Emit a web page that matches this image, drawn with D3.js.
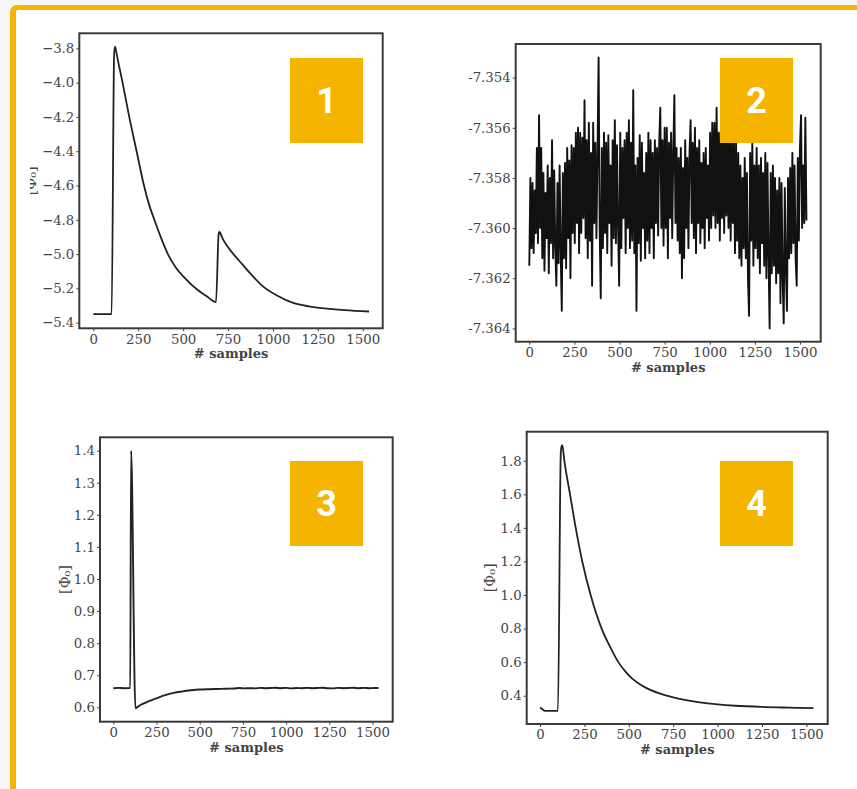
<!DOCTYPE html>
<html>
<head>
<meta charset="utf-8">
<script src="https://cdn.jsdelivr.net/npm/d3@7"></script>
<style>
  body { margin: 0; background: #f6f6f6; }
  svg text { font-family: "DejaVu Serif", serif; }
</style>
</head>
<body>
<div id="chart"></div>
<script>
// ---- data ----
const xTicks = [0, 250, 500, 750, 1000, 1250, 1500];

// panel 1: two pulses
const p1Samples = [0, 100, 102, 116, 121, 126, 135, 163, 200, 241, 282, 310, 340, 375, 415, 460, 510, 576, 630, 683, 698, 702, 706, 720, 750, 780, 830, 880, 946, 1020, 1113, 1200, 1300, 1400, 1535];
const p1Values = [-5.35, -5.35, -5.35, -3.83, -3.79, -3.81, -3.86, -4.0, -4.2, -4.4, -4.6, -4.71, -4.8, -4.90, -5.0, -5.08, -5.14, -5.205, -5.245, -5.28, -4.88, -4.87, -4.875, -4.91, -4.96, -5.0, -5.06, -5.12, -5.19, -5.24, -5.285, -5.305, -5.318, -5.327, -5.335];
const p1Ticks = [-5.4, -5.2, -5.0, -4.8, -4.6, -4.4, -4.2, -4.0, -3.8];

// panel 2: noise, one reading every 6 samples
const noiseStep = 6;
const p2Values = [
  -7.3615, -7.3580, -7.3608, -7.3582, -7.3610, -7.3585, -7.3602, -7.3568, -7.3606, -7.3555,
  -7.3600, -7.3568, -7.3612, -7.3578, -7.3617, -7.3586, -7.3604, -7.3575, -7.3618, -7.3580,
  -7.3606, -7.3565, -7.3612, -7.3577, -7.3608, -7.3623, -7.3582, -7.3614, -7.3575, -7.3610,
  -7.3633, -7.3578, -7.3612, -7.3574, -7.3616, -7.3568, -7.3604, -7.3573, -7.3620, -7.3567,
  -7.3602, -7.3568, -7.3606, -7.3562, -7.3598, -7.3560, -7.3610, -7.3562, -7.3602, -7.3564,
  -7.3596, -7.3549, -7.3604, -7.3565, -7.3612, -7.3558, -7.3605, -7.3570, -7.3623, -7.3558,
  -7.3598, -7.3566, -7.3604, -7.3570, -7.3532, -7.3600, -7.3628, -7.3568, -7.3608, -7.3562,
  -7.3602, -7.3566, -7.3610, -7.3563, -7.3598, -7.3575, -7.3615, -7.3565, -7.3604, -7.3557,
  -7.3606, -7.3567, -7.3600, -7.3623, -7.3562, -7.3608, -7.3568, -7.3596, -7.3565, -7.3610,
  -7.3562, -7.3600, -7.3557, -7.3608, -7.3566, -7.3605, -7.3545, -7.3610, -7.3575, -7.3633,
  -7.3572, -7.3606, -7.3563, -7.3613, -7.3566, -7.3600, -7.3578, -7.3612, -7.3570, -7.3605,
  -7.3562, -7.3610, -7.3565, -7.3600, -7.3570, -7.3612, -7.3565, -7.3598, -7.3568, -7.3603,
  -7.3566, -7.3552, -7.3600, -7.3565, -7.3607, -7.3560, -7.3600, -7.3560, -7.3612, -7.3566,
  -7.3596, -7.3562, -7.3604, -7.3570, -7.3547, -7.3598, -7.3568, -7.3605, -7.3572, -7.3610,
  -7.3568, -7.3620, -7.3576, -7.3612, -7.3565, -7.3600, -7.3572, -7.3608, -7.3570, -7.3557,
  -7.3598, -7.3566, -7.3604, -7.3560, -7.3610, -7.3568, -7.3598, -7.3565, -7.3606, -7.3574,
  -7.3600, -7.3570, -7.3608, -7.3568, -7.3596, -7.3575, -7.3605, -7.3562, -7.3600, -7.3558,
  -7.3595, -7.3558, -7.3600, -7.3552, -7.3598, -7.3562, -7.3605, -7.3560, -7.3596, -7.3557,
  -7.3602, -7.3556, -7.3595, -7.3565, -7.3600, -7.3558, -7.3605, -7.3566, -7.3598, -7.3562,
  -7.3610, -7.3566, -7.3605, -7.3570, -7.3612, -7.3575, -7.3615, -7.3580, -7.3608, -7.3572,
  -7.3612, -7.3578, -7.3620, -7.3635, -7.3570, -7.3605, -7.3566, -7.3615, -7.3575, -7.3608,
  -7.3568, -7.3612, -7.3575, -7.3618, -7.3572, -7.3606, -7.3578, -7.3615, -7.3570, -7.3620,
  -7.3574, -7.3612, -7.3640, -7.3578, -7.3618, -7.3575, -7.3615, -7.3580, -7.3622, -7.3585,
  -7.3618, -7.3580, -7.3630, -7.3582, -7.3620, -7.3638, -7.3584, -7.3616, -7.3633, -7.3580,
  -7.3612, -7.3576, -7.3610, -7.3570, -7.3606, -7.3575, -7.3612, -7.3623, -7.3572, -7.3605,
  -7.3568, -7.3555, -7.3600, -7.3575, -7.3598, -7.3556, -7.3597
];
const p2Samples = p2Values.map((v, i) => i * noiseStep);
const p2Ticks = [-7.364, -7.362, -7.360, -7.358, -7.356, -7.354];

// panel 3: short spike, undershoot, recovery
const p3Samples = [0, 30, 60, 98, 103, 128, 140, 160, 185, 206, 250, 300, 350, 394, 450, 500, 550, 600, 650, 700, 730, 760, 790, 820, 850, 880, 910, 940, 970, 1000, 1030, 1060, 1090, 1120, 1150, 1180, 1210, 1240, 1270, 1300, 1330, 1360, 1390, 1420, 1450, 1480, 1510, 1535];
const p3Values = [0.6595, 0.6605, 0.6595, 0.660, 1.40, 0.597, 0.601, 0.608, 0.614, 0.619, 0.628, 0.638, 0.645, 0.649, 0.653, 0.6555, 0.6565, 0.657, 0.658, 0.6585, 0.660, 0.659, 0.6595, 0.659, 0.6605, 0.6595, 0.660, 0.661, 0.6595, 0.6605, 0.659, 0.660, 0.6595, 0.6605, 0.6595, 0.660, 0.661, 0.6595, 0.659, 0.6605, 0.6595, 0.660, 0.661, 0.6595, 0.6605, 0.6595, 0.660, 0.660];
const p3Ticks = [0.6, 0.7, 0.8, 0.9, 1.0, 1.1, 1.2, 1.3, 1.4];

// panel 4: single pulse
const p4Samples = [0, 10, 28, 60, 101, 117, 122, 124, 127, 137, 169, 201, 238, 285, 347, 400, 441, 480, 516, 560, 600, 713, 800, 900, 1000, 1100, 1250, 1400, 1540];
const p4Values = [0.33, 0.322, 0.31, 0.31, 0.31, 1.85, 1.888, 1.893, 1.885, 1.8, 1.6, 1.4, 1.2, 1.0, 0.8, 0.68, 0.6, 0.545, 0.505, 0.47, 0.445, 0.4, 0.378, 0.36, 0.348, 0.34, 0.333, 0.329, 0.326];
const p4Ticks = [0.4, 0.6, 0.8, 1.0, 1.2, 1.4, 1.6, 1.8];

const panelLabels = ["1", "2", "3", "4"];

// ---- layout ----
const W = 857, H = 789;
const orange = "#f5b400";

const svg = d3.select("#chart").append("svg")
  .attr("width", W)
  .attr("height", H);

// page frame: grey outside, orange border on top and left
svg.append("rect").attr("width", W).attr("height", H).attr("fill", "#f6f6f6");
svg.append("rect").attr("x", 10).attr("y", 5).attr("width", W).attr("height", H).attr("rx", 7).attr("fill", orange);
svg.append("rect").attr("x", 16).attr("y", 10).attr("width", W).attr("height", H).attr("rx", 2).attr("fill", "#fff");

// the first panel's y label is cut off on its left side in the source
svg.append("defs").append("clipPath").attr("id", "cut1")
  .append("rect").attr("x", 30).attr("y", 0).attr("width", 100).attr("height", 400);

const fmtMinus = d3.format(".1f");
const fmtHyphen = v => d3.format(".3f")(v).replace("\u2212", "-");

const panels = [
  { samples: p1Samples, values: p1Values, yTicks: p1Ticks, fmt: fmtMinus,
    box: { left: 79.3, right: 382.7, top: 33.3, bottom: 328.3 },
    xDomain: [-78, 1611], yDomain: [-5.433, -3.712],
    curve: d3.curveMonotoneX, width: 1.8, yLabelX: 30.5, clipLabel: true, tag: [290, 58] },
  { samples: p2Samples, values: p2Values, yTicks: p2Ticks, fmt: fmtHyphen,
    box: { left: 515.7, right: 820.7, top: 44, bottom: 341.7 },
    xDomain: [-75.4, 1615], yDomain: [-7.36453, -7.35266],
    curve: d3.curveLinear, width: 1.9, yLabelX: null, tag: [720, 58] },
  { samples: p3Samples, values: p3Values, yTicks: p3Ticks, fmt: fmtMinus,
    box: { left: 100, right: 392.7, top: 437.3, bottom: 721.7 },
    xDomain: [-77, 1617], yDomain: [0.5551, 1.4418],
    curve: d3.curveMonotoneX, width: 1.9, yLabelX: 65, tag: [290, 461] },
  { samples: p4Samples, values: p4Values, yTicks: p4Ticks, fmt: fmtMinus,
    box: { left: 526.7, right: 827.7, top: 431.7, bottom: 724 },
    xDomain: [-75, 1620], yDomain: [0.2314, 1.973],
    curve: d3.curveMonotoneX, width: 1.8, yLabelX: 490, tag: [720, 461] }
];

panels.forEach((p, i) => {
  const x = d3.scaleLinear().domain(p.xDomain).range([p.box.left, p.box.right]);
  const y = d3.scaleLinear().domain(p.yDomain).range([p.box.bottom, p.box.top]);
  const g = svg.append("g").attr("class", "panel");

  // trace
  g.append("path")
    .datum(d3.zip(p.samples, p.values))
    .attr("fill", "none")
    .attr("stroke", i === 1 ? "#111" : "#222")
    .attr("stroke-width", p.width)
    .attr("stroke-linejoin", "round")
    .attr("d", d3.line().x(d => x(d[0])).y(d => y(d[1])).curve(p.curve));

  // axes
  const xa = g.append("g")
    .attr("transform", `translate(0,${p.box.bottom})`)
    .call(d3.axisBottom(x).tickValues(xTicks).tickFormat(d3.format("d")).tickSize(3).tickPadding(3));
  const ya = g.append("g")
    .attr("transform", `translate(${p.box.left},0)`)
    .call(d3.axisLeft(y).tickValues(p.yTicks).tickFormat(p.fmt).tickSize(3).tickPadding(2));
  [xa, ya].forEach(a => {
    a.select(".domain").remove();
    a.attr("font-size", 13.3).attr("color", "#444");
  });

  // box
  g.append("rect")
    .attr("x", p.box.left).attr("y", p.box.top)
    .attr("width", p.box.right - p.box.left)
    .attr("height", p.box.bottom - p.box.top)
    .attr("fill", "none")
    .attr("stroke", "#3a3a3a")
    .attr("stroke-width", 2);

  g.append("text")
    .attr("x", (p.box.left + p.box.right) / 2)
    .attr("y", p.box.bottom + 30)
    .attr("text-anchor", "middle")
    .attr("font-size", 13)
    .attr("font-weight", "bold")
    .attr("fill", "#444")
    .text("# samples");

  if (p.yLabelX !== null) {
    const cy = (p.box.top + p.box.bottom) / 2;
    const holder = g.append("g");
    if (p.clipLabel) holder.attr("clip-path", "url(#cut1)");
    holder.append("text")
      .attr("transform", `translate(${p.yLabelX},${cy}) rotate(-90)`)
      .attr("text-anchor", "middle")
      .attr("dominant-baseline", "central")
      .attr("font-size", 14.5)
      .attr("fill", "#444")
      .text("[Φ₀]");
  }

  // numbered tag
  g.append("rect")
    .attr("x", p.tag[0]).attr("y", p.tag[1])
    .attr("width", 73).attr("height", 85)
    .attr("fill", orange);
  g.append("text")
    .attr("x", p.tag[0] + 36.5)
    .attr("y", p.tag[1] + 42.5 + 12.5)
    .attr("text-anchor", "middle")
    .style("font-family", "Roboto, sans-serif")
    .style("font-weight", "700")
    .style("font-size", "36px")
    .attr("fill", "#fff")
    .text(panelLabels[i]);
});
</script>
</body>
</html>
